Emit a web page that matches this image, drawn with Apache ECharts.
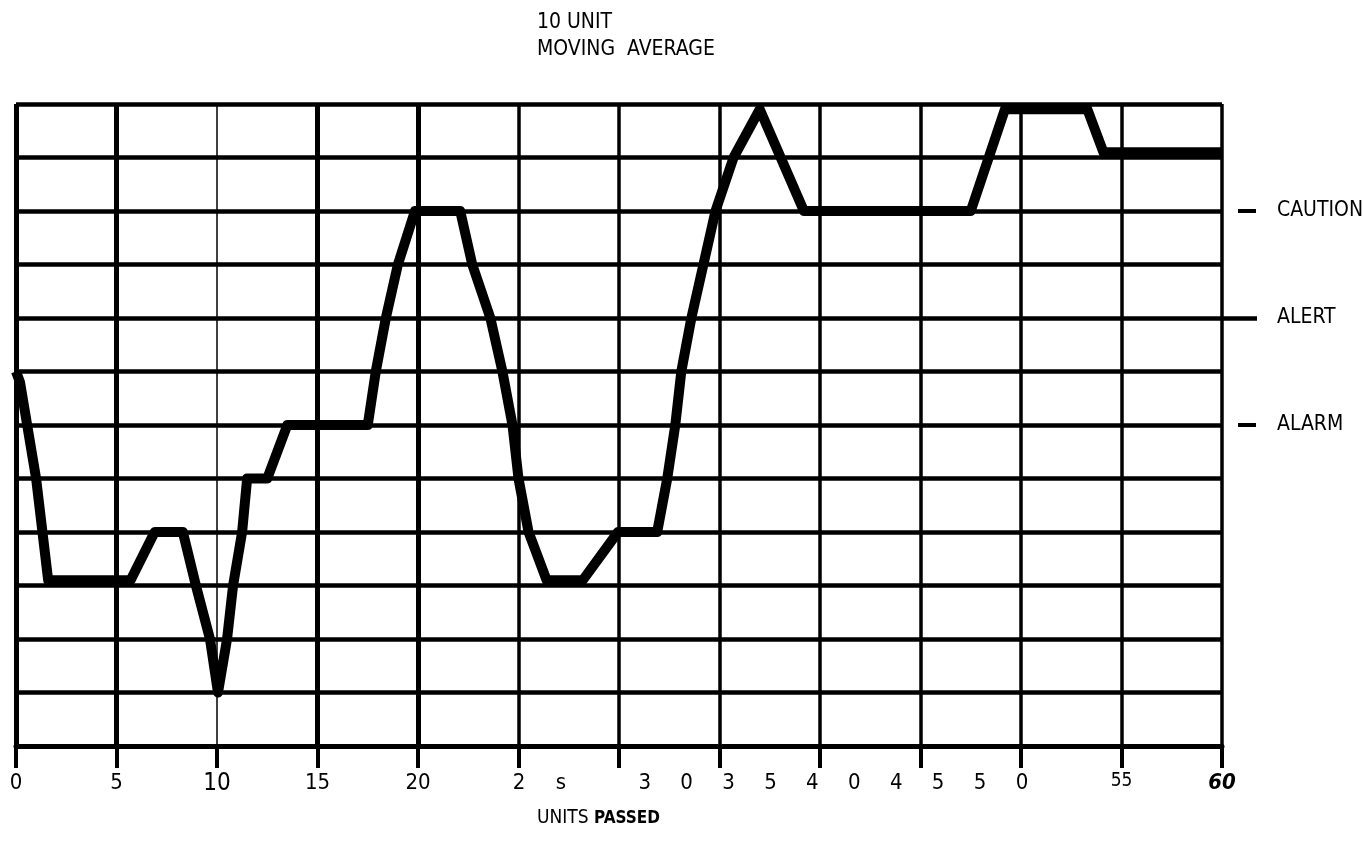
<!DOCTYPE html>
<html>
<head>
<meta charset="utf-8">
<title>10 Unit Moving Average</title>
<script src="https://cdn.jsdelivr.net/npm/echarts@6/dist/echarts.min.js"></script>
<style>
  html, body { margin: 0; padding: 0; background: #fff; }
  #chart { width: 1364px; height: 847px; }
</style>
</head>
<body>
<div id="chart"></div>
<script>
// trace of the moving average: x = units passed, y = grid level (0 bottom .. 12 top)
var unitsPassed = [0, 0.2, 1.0, 1.6, 5.7, 6.9, 8.3, 8.95, 9.65, 10.05, 10.5, 10.8, 11.25, 11.5,
  12.5, 13.5, 17.5, 17.9, 18.4, 19.0, 19.85, 22.1, 22.7, 23.6, 24.2, 24.7, 25.0, 25.5, 26.4,
  28.2, 29.95, 31.9, 32.4, 32.8, 33.1, 33.6, 34.2, 34.8, 35.7, 37.0, 39.2, 47.5, 49.2, 53.3, 54.1, 60];
var avgLevel = [7, 6.8, 5, 3.1, 3.1, 4, 4, 3, 2, 1.0, 2, 3, 4, 5,
  5, 6, 6, 7, 8, 9, 10, 10, 9, 8, 7, 6, 5, 4, 3.1,
  3.1, 4, 4, 5, 6, 7, 8, 9, 10, 11, 11.9, 10, 10, 11.9, 11.9, 11.1, 11.1];

var xGridLines = [0, 5, 10, 15, 20, 25, 30, 35, 40, 45, 50, 55, 60];
var xTickLabels = ['0', '5', '10', '15', '20', '', '', '', '', '', '', '55', '60'];
// the scanned middle labels come out spaced letter by letter
var midTickChars = ['2', 's', '', '3', '0', '3', '5', '4', '0', '4', '5', '5', '0'];
var rightLevels = [10, 8, 6];
var rightNames = ['CAUTION', 'ALERT', 'ALARM'];

var FONT = '"Liberation Sans Narrow", "DejaVu Sans Condensed", "Liberation Sans", sans-serif';

function vLineWidth(v) {
  if (v === 10) return 1.5;
  if (v <= 20) return 5;
  return 3.5;
}

var chartDom = document.getElementById('chart');
var myChart = echarts.init(chartDom);

var traceData = unitsPassed.map(function (x, i) { return [x, avgLevel[i]]; });

var option = {
  backgroundColor: '#fff',
  animation: false,
  title: [
    {
      left: 532, top: 4,
      text: '10 UNIT\nMOVING  AVERAGE',
      textStyle: { fontFamily: FONT, fontSize: 21, fontWeight: 'normal', color: '#000', lineHeight: 27 }
    },
    {
      left: 532, top: 804,
      text: '{a|UNITS }{b|PASSED}',
      textStyle: {
        fontWeight: 'normal',
        rich: {
          a: { fontFamily: FONT, fontSize: 19, fontWeight: 'normal', color: '#000' },
          b: { fontFamily: FONT, fontSize: 17, fontWeight: 'bold', color: '#000' }
        }
      }
    }
  ],
  grid: [
    { left: 16, right: 142, top: 104, bottom: 101, outerBoundsMode: 'none' },
    { left: 519, right: 342, top: 104, bottom: 101, outerBoundsMode: 'none' }
  ],
  xAxis: [
    {
      type: 'value', gridIndex: 0, min: 0, max: 60, interval: 5,
      axisLine: { show: true, lineStyle: { color: '#000', width: 5 } },
      axisTick: { show: true, length: 22, lineStyle: { color: '#000', width: 4 } },
      splitLine: { show: false },
      axisLabel: {
        margin: 26,
        formatter: function (v) {
          var i = Math.round(v / 5);
          var t = xTickLabels[i];
          if (!t) return '';
          var s = i === 2 ? 'big' : (i === 11 ? 'sm' : (i === 12 ? 'bd' : 'n'));
          return '{' + s + '|' + t + '}';
        },
        rich: {
          n: { fontFamily: FONT, fontSize: 22, color: '#000' },
          big: { fontFamily: FONT, fontSize: 24, color: '#000', padding: [0, 0, 12, 0] },
          sm: { fontFamily: FONT, fontSize: 19, color: '#000', padding: [0, 0, 4, 0] },
          bd: { fontFamily: FONT, fontSize: 22, fontWeight: 'bold', fontStyle: 'italic', color: '#000' }
        }
      }
    },
    {
      type: 'category', gridIndex: 1, data: midTickChars, boundaryGap: false,
      axisLine: { show: false }, axisTick: { show: false }, splitLine: { show: false },
      axisLabel: { interval: 0, margin: 26, fontFamily: FONT, fontSize: 22, color: '#000' }
    }
  ],
  yAxis: [
    {
      type: 'value', gridIndex: 0, min: 0, max: 12, interval: 1,
      axisLine: { show: false }, axisTick: { show: false }, axisLabel: { show: false },
      splitLine: { show: true, lineStyle: { color: '#000', width: 4.5 } }
    },
    {
      type: 'value', gridIndex: 0, position: 'right', offset: 0, min: 0, max: 12, interval: 1,
      axisLine: { show: false }, axisLabel: { show: false }, splitLine: { show: false },
      axisTick: { show: true, customValues: [8], length: 35, lineStyle: { color: '#000', width: 4.5 } }
    },
    {
      type: 'value', gridIndex: 0, position: 'right', offset: 16, min: 0, max: 12, interval: 1,
      axisLine: { show: false }, splitLine: { show: false },
      axisTick: { show: true, customValues: [10, 6], length: 18, lineStyle: { color: '#000', width: 4 } },
      axisLabel: {
        customValues: rightLevels, margin: 39,
        fontFamily: FONT, fontSize: 21, color: '#000',
        formatter: function (v) { return rightNames[rightLevels.indexOf(v)] || ''; }
      }
    },
    { type: 'value', gridIndex: 1, show: false, min: 0, max: 12 }
  ],
  series: [
    {
      // vertical grid lines, drawn under the trace
      type: 'line', xAxisIndex: 0, yAxisIndex: 0, data: [], z: 1, silent: true,
      markLine: {
        silent: true, symbol: 'none', animation: false,
        label: { show: false },
        data: xGridLines.map(function (v) {
          return { xAxis: v, lineStyle: { color: '#000', type: 'solid', width: vLineWidth(v) } };
        })
      }
    },
    {
      name: 'Moving average', type: 'line', xAxisIndex: 0, yAxisIndex: 0, z: 5,
      data: traceData, showSymbol: false, symbol: 'none', clip: false,
      lineStyle: { color: '#000', width: 10, join: 'round' }
    }
  ]
};

option && myChart.setOption(option);
</script>
</body>
</html>
